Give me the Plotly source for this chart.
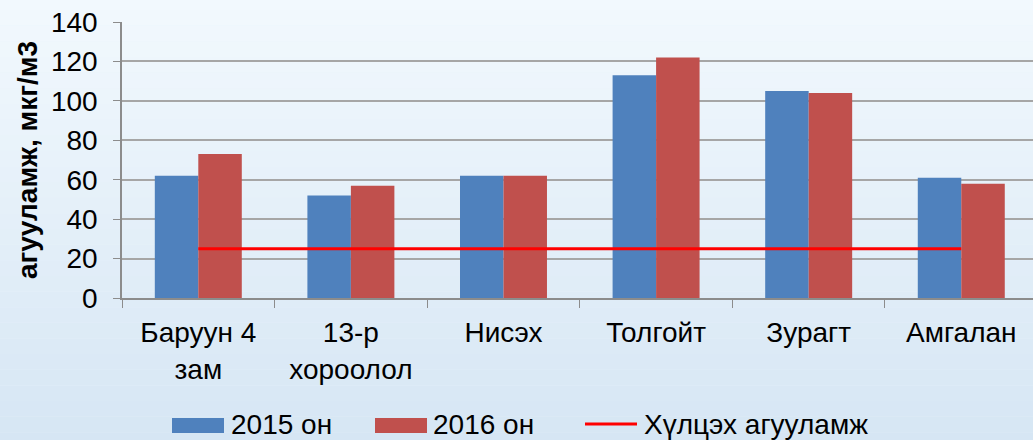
import plotly.graph_objects as go

categories = ["Баруун 4<br>зам", "13-р<br>хороолол", "Нисэх", "Толгойт", "Зурагт", "Амгалан"]
values_2015 = [62, 52, 62, 113, 105, 61]
values_2016 = [73, 57, 62, 122, 104, 58]
limit_values = [25, 25, 25, 25, 25, 25]
series_names = ["2015 он", "2016 он", "Хүлцэх агууламж"]
series_colors = ["#4F81BD", "#C0504D", "#FF0000"]
y_ticks = [0, 20, 40, 60, 80, 100, 120, 140]

FONT = "Liberation Sans, Arial, sans-serif"
W, H = 1033, 440
ML, MR, MT, MB = 122, 0, 22, 142

fig = go.Figure()
fig.add_trace(go.Bar(x=categories, y=values_2015, name=series_names[0],
                     marker=dict(color=series_colors[0], line=dict(width=0))))
fig.add_trace(go.Bar(x=categories, y=values_2016, name=series_names[1],
                     marker=dict(color=series_colors[1], line=dict(width=0))))
fig.add_trace(go.Scatter(x=categories, y=limit_values, name=series_names[2],
                         mode="lines", line=dict(color=series_colors[2], width=3)))

# soft background gradient (styling only)
shapes = []
n = 30
top = (242, 249, 254)
bot = (214, 230, 244)
for i in range(n):
    t = i / (n - 1)
    c = tuple(int(top[k] + (bot[k] - top[k]) * t) for k in range(3))
    shapes.append(dict(type="rect", xref="paper", yref="paper",
                       x0=-0.2, x1=1.1, y0=1.1 - (i + 1) * 1.7 / n, y1=1.1 - i * 1.7 / n,
                       fillcolor="rgb(%d,%d,%d)" % c, line=dict(width=0), layer="below"))

# custom legend (wide swatches as in the reference)
pw = W - ML - MR
ph = H - MT - MB
def px(x):
    return (x - ML) / pw
def py(y):
    return (H - MB - y) / ph

annotations = []
leg_y = 424
items = [(172, 224, 230, "rect"), (375, 427, 432, "rect"), (585, 637, 643, "line")]
for (x0, x1, tx, kind), name, col in zip(items, series_names, series_colors):
    if kind == "rect":
        shapes.append(dict(type="rect", xref="paper", yref="paper",
                           x0=px(x0), x1=px(x1), y0=py(leg_y + 9), y1=py(leg_y - 6),
                           fillcolor=col, line=dict(width=0)))
    else:
        shapes.append(dict(type="line", xref="paper", yref="paper",
                           x0=px(x0), x1=px(x1), y0=py(leg_y), y1=py(leg_y),
                           line=dict(color=col, width=3)))
    annotations.append(dict(text=name, xref="paper", yref="paper", x=px(tx), y=py(leg_y),
                            xanchor="left", yanchor="middle", showarrow=False, borderpad=0,
                            font=dict(size=28, family=FONT, color="#000000")))

fig.update_layout(
    width=W, height=H,
    margin=dict(l=ML, r=MR, t=MT, b=MB),
    paper_bgcolor="rgb(232,242,250)",
    plot_bgcolor="rgba(0,0,0,0)",
    barmode="group", bargap=0.43, bargroupgap=0,
    font=dict(family=FONT, size=28, color="#000000"),
    shapes=shapes,
    annotations=annotations,
    showlegend=False,
    xaxis=dict(type="category", range=[-0.5, 5.47],
               showline=True, linecolor="#8c8c8c", linewidth=1.5,
               ticks="outside", tickson="boundaries", ticklen=8, tickcolor="#8c8c8c",
               ticklabelstandoff=9,
               tickfont=dict(size=28), showgrid=False),
    yaxis=dict(range=[0, 140], tickvals=y_ticks,
               showline=True, linecolor="#8c8c8c", linewidth=1.5,
               ticks="outside", ticklen=7, tickcolor="#8c8c8c",
               ticklabelstandoff=10,
               gridcolor="#a6a6a6", gridwidth=2, zeroline=False,
               tickfont=dict(size=28),
               title=dict(text="<b>агууламж, мкг/м3</b>", font=dict(size=28), standoff=5)),
)

fig.write_html("out.html", config={"displayModeBar": False},
               post_script="document.body.style.margin='0';document.body.style.padding='0';document.body.style.overflow='hidden';")
